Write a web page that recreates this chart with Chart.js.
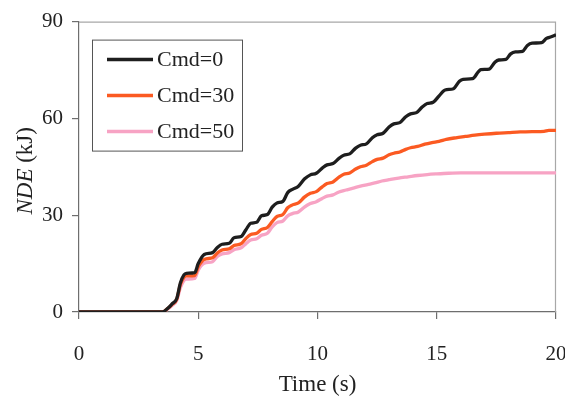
<!DOCTYPE html>
<html>
<head>
<meta charset="utf-8">
<script src="https://cdn.jsdelivr.net/npm/chart.js@4"></script>
<style>
  html, body { margin: 0; padding: 0; background: #fff; }
  #wrap { width: 565px; height: 405px; }
</style>
</head>
<body>
<div id="wrap"><canvas id="ndeChart" width="565" height="405"></canvas></div>
<script>
// tempi (s) e NDE (kJ)
const tempoCmd0 = [0, 3.5, 3.7, 3.9, 4.1, 4.25, 4.4, 4.5, 4.85, 5.0, 5.25, 5.6, 5.8, 6.0, 6.3, 6.5, 6.8, 7.0, 7.2, 7.45, 7.65, 7.9, 8.1, 8.3, 8.55, 8.75, 8.95, 9.2, 9.45, 9.7, 9.95, 10.2, 10.4, 10.65, 10.9, 11.1, 11.35, 11.6, 11.8, 12.05, 12.3, 12.5, 12.75, 13.0, 13.2, 13.45, 13.7, 13.9, 14.15, 14.4, 14.6, 14.85, 15.1, 15.35, 15.7, 15.95, 16.1, 16.5, 16.75, 16.85, 17.2, 17.45, 17.6, 17.9, 18.1, 18.3, 18.6, 18.8, 19.0, 19.4, 19.6, 19.8, 20];
const ndeCmd0 = [0, 0, 1, 2.5, 4.2, 9, 11.5, 12, 12.2, 15, 17.8, 18.4, 20, 21, 21.3, 23, 23.4, 25.5, 27.5, 27.8, 29.8, 30.2, 32.5, 33.8, 34.3, 37, 38, 39, 41.2, 42.5, 43, 44.6, 45.6, 46, 47.6, 48.6, 49, 50.8, 51.7, 52.1, 54, 54.9, 55.4, 57.3, 58.3, 58.7, 60.5, 61.4, 61.8, 63.6, 64.6, 65, 67, 68.8, 69.2, 71.5, 72.1, 72.3, 74.5, 75.1, 75.3, 77.5, 78.1, 78.3, 80, 80.6, 80.8, 82.6, 83.3, 83.5, 84.8, 85.3, 85.9];

const tempoCmd30 = [0, 3.5, 3.7, 3.9, 4.1, 4.25, 4.4, 4.5, 4.85, 5.0, 5.25, 5.6, 5.8, 6.0, 6.3, 6.5, 6.8, 7.0, 7.2, 7.45, 7.65, 7.9, 8.1, 8.3, 8.55, 8.75, 8.95, 9.2, 9.45, 9.7, 9.95, 10.2, 10.4, 10.65, 10.9, 11.1, 11.35, 11.6, 11.8, 12.05, 12.3, 12.5, 12.75, 13.0, 13.2, 13.45, 13.7, 13.9, 14.2, 14.5, 14.8, 15.1, 15.4, 15.8, 16.2, 16.6, 17.0, 17.5, 18.0, 18.5, 19.0, 19.5, 19.7, 20];
const ndeCmd30 = [0, 0, 1, 2.3, 4, 8.5, 10.8, 11.2, 11.3, 14, 16.3, 16.8, 18.3, 19.2, 19.6, 20.6, 21.2, 22.8, 24, 24.4, 25.6, 26.2, 28, 29.6, 30.2, 32.3, 33.2, 33.8, 35.6, 36.8, 37.3, 38.8, 39.8, 40.3, 41.8, 42.7, 43.1, 44.3, 45, 45.5, 46.6, 47.3, 47.7, 48.7, 49.2, 49.6, 50.4, 50.9, 51.3, 52, 52.5, 52.9, 53.5, 54, 54.4, 54.8, 55.1, 55.4, 55.6, 55.8, 55.9, 56, 56.3, 56.3];

const tempoCmd50 = [0, 3.5, 3.7, 3.9, 4.1, 4.25, 4.4, 4.5, 4.85, 5.0, 5.25, 5.6, 5.8, 6.0, 6.3, 6.5, 6.8, 7.0, 7.2, 7.45, 7.65, 7.9, 8.1, 8.3, 8.55, 8.75, 8.95, 9.2, 9.45, 9.7, 9.95, 10.2, 10.4, 10.65, 10.9, 11.2, 11.5, 11.8, 12.1, 12.4, 12.7, 13.0, 13.4, 13.8, 14.2, 14.6, 15.0, 15.5, 16, 20];
const ndeCmd50 = [0, 0, 0.8, 2, 3.6, 7.5, 9.8, 10.2, 10.4, 13, 15.1, 15.6, 17.2, 18, 18.4, 19.3, 19.9, 21.2, 22.3, 22.7, 23.8, 24.4, 26.4, 27.7, 28.2, 29.8, 30.5, 31, 32.5, 33.6, 34.2, 35.2, 35.9, 36.3, 37.2, 37.8, 38.4, 39, 39.5, 40, 40.6, 41, 41.5, 41.9, 42.3, 42.6, 42.8, 43, 43.1, 43.1];

const etichette = ['Cmd=0', 'Cmd=30', 'Cmd=50'];
const tickTempo = [0, 5, 10, 15, 20];
const tickNde = [0, 30, 60, 90];

const colori = ['#1e1e1e', '#fb5a22', '#f7a3c4'];
const fontSerif = 'Liberation Serif, Times New Roman, serif';

function creaPunti(tempi, valori) {
    return tempi.map((t, i) => ({ x: t, y: valori[i] }));
}

function creaSerie(label, tempi, valori, colore) {
    return {
        label: label,
        data: creaPunti(tempi, valori),
        borderColor: colore,
        backgroundColor: colore,
        borderWidth: 3.3,
        pointRadius: 0,
        cubicInterpolationMode: 'monotone'
    };
}

// bordo superiore/destro, legenda con riquadro e titolo asse y con NDE in corsivo
const extraPlugin = {
    id: 'extra',
    beforeDatasetsDraw(chart) {
        const { ctx, chartArea: a } = chart;
        ctx.save();
        ctx.strokeStyle = '#a8a8a8';
        ctx.lineWidth = 1.2;
        ctx.beginPath();
        ctx.moveTo(a.left, a.top + 0.5);
        ctx.lineTo(a.right - 0.5, a.top + 0.5);
        ctx.lineTo(a.right - 0.5, a.bottom);
        ctx.stroke();
        ctx.restore();
    },
    afterDraw(chart) {
        const { ctx, chartArea: a } = chart;
        ctx.save();
        // legenda
        const bx = a.left + 13, by = a.top + 18, bw = 150, bh = 111;
        ctx.fillStyle = '#fff';
        ctx.fillRect(bx, by, bw, bh);
        ctx.strokeStyle = '#555';
        ctx.lineWidth = 1;
        ctx.strokeRect(bx + 0.5, by + 0.5, bw, bh);
        ctx.font = '22px ' + fontSerif;
        ctx.textBaseline = 'middle';
        chart.data.datasets.forEach((ds, i) => {
            const y = by + 20 + i * 36;
            ctx.strokeStyle = ds.borderColor;
            ctx.lineWidth = 3.5;
            ctx.beginPath();
            ctx.moveTo(bx + 15, y);
            ctx.lineTo(bx + 61, y);
            ctx.stroke();
            ctx.fillStyle = '#222';
            ctx.fillText(ds.label, bx + 65, y + 1);
        });
        // titolo asse y
        ctx.translate(26, (a.top + a.bottom) / 2 + 4);
        ctx.rotate(-Math.PI / 2);
        ctx.textBaseline = 'middle';
        ctx.fillStyle = '#222';
        const parte1 = 'NDE', parte2 = ' (kJ)';
        ctx.font = 'italic 23px ' + fontSerif;
        const w1 = ctx.measureText(parte1).width;
        ctx.font = '23px ' + fontSerif;
        const w2 = ctx.measureText(parte2).width;
        let x0 = -(w1 + w2) / 2;
        ctx.font = 'italic 23px ' + fontSerif;
        ctx.fillText(parte1, x0, 0);
        ctx.font = '23px ' + fontSerif;
        ctx.fillText(parte2, x0 + w1, 0);
        ctx.restore();
    }
};

const ctx = document.getElementById('ndeChart').getContext('2d');
const grafico = new Chart(ctx, {
    type: 'line',
    data: {
        datasets: [
            creaSerie(etichette[0], tempoCmd0, ndeCmd0, colori[0]),
            creaSerie(etichette[1], tempoCmd30, ndeCmd30, colori[1]),
            creaSerie(etichette[2], tempoCmd50, ndeCmd50, colori[2])
        ]
    },
    options: {
        responsive: false,
        animation: false,
        layout: { padding: { top: 14, right: 9, left: 0, bottom: 0 } },
        plugins: {
            legend: { display: false },
            tooltip: { enabled: false }
        },
        scales: {
            x: {
                type: 'linear',
                min: 0,
                max: 20,
                afterBuildTicks: (s) => { s.ticks = tickTempo.map(v => ({ value: v })); },
                afterFit: (s) => { s.height = 93; s.paddingLeft = 0; s.paddingRight = 0; },
                grid: { drawOnChartArea: false, drawTicks: true, tickLength: 7, color: '#6e6e6e', lineWidth: 1.2 },
                border: { display: true, color: '#6e6e6e', width: 1.2 },
                ticks: { padding: 23, color: '#222', maxRotation: 0, font: { family: fontSerif, size: 21 } },
                title: {
                    display: true,
                    text: 'Time (s)',
                    color: '#222',
                    padding: { top: 0, bottom: 6 },
                    font: { family: fontSerif, size: 23 }
                }
            },
            y: {
                min: 0,
                max: 90,
                afterBuildTicks: (s) => { s.ticks = tickNde.map(v => ({ value: v })); },
                afterFit: (s) => { s.width = 79; },
                grid: { drawOnChartArea: false, drawTicks: true, tickLength: 7, color: '#6e6e6e', lineWidth: 1.2 },
                border: { display: true, color: '#6e6e6e', width: 1.2 },
                ticks: { padding: 9, color: '#222', font: { family: fontSerif, size: 21 } }
            }
        }
    },
    plugins: [extraPlugin]
});
</script>
</body>
</html>
